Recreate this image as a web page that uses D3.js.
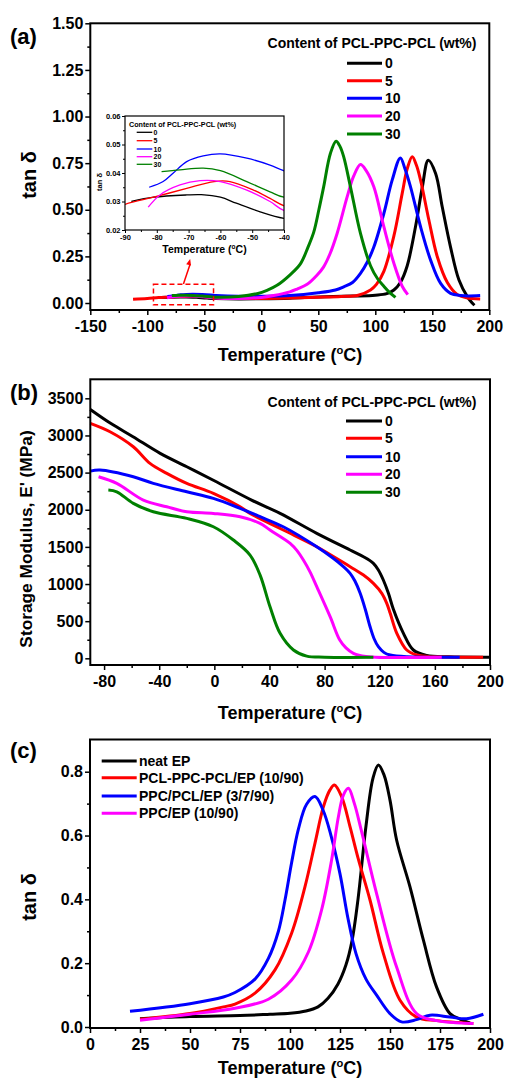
<!DOCTYPE html>
<html>
<head>
<meta charset="utf-8">
<script src="https://cdn.jsdelivr.net/npm/d3@7"></script>
<style>
  html, body { margin: 0; padding: 0; background: #fff; }
  svg { display: block; }
  text { font-family: 'Liberation Sans', Arial, sans-serif; font-weight: bold; fill: #000; }
</style>
</head>
<body>
<svg id="chart" width="505" height="1082"></svg>
<script>
// ---------- Panel (a): tan δ vs temperature, PCL-PPC-PCL content series ----------
const contentLabels = ["0", "5", "10", "20", "30"];
const seriesColors = ["#000000", "#ff0000", "#0000ff", "#ff00ff", "#008000"];

const tanA_0 = [[-88,0.030],[-81,0.0315],[-70.6,0.0323],[-66,0.0324],[-60,0.0315],[-55,0.0294],[-47.5,0.0264],[-40,0.0241],[-20,0.022],[0,0.023],[25,0.026],[50,0.032],[80,0.037],[100,0.042],[110,0.05],[116.3,0.07],[122,0.11],[128,0.2],[135.3,0.41],[141.2,0.62],[146.5,0.766],[152.9,0.695],[158.7,0.516],[166,0.30],[173.4,0.123],[180.7,0.034],[185,0.0],[187,-0.012]];
const tanA_5 = [[-112.5,0.02],[-100,0.024],[-90,0.029],[-81,0.0315],[-70.6,0.0346],[-62,0.037],[-57,0.037],[-49.6,0.034],[-44.4,0.0311],[-39.7,0.0284],[-20,0.024],[0,0.024],[25,0.027],[50,0.031],[70,0.035],[85,0.042],[95.8,0.07],[101,0.1],[107.5,0.17],[116.3,0.36],[123.6,0.588],[128,0.72],[132.4,0.784],[136,0.74],[139.7,0.659],[147,0.445],[154.4,0.248],[163.2,0.11],[172,0.045],[180,0.028],[192,0.022]];
const tanA_10 = [[-82.4,0.035],[-78,0.037],[-74.8,0.040],[-70.6,0.044],[-65.4,0.046],[-60,0.0467],[-51.7,0.0452],[-44.4,0.0428],[-39.7,0.0407],[-20,0.036],[0,0.036],[25,0.04],[50,0.055],[65,0.07],[72.3,0.087],[80,0.11],[87,0.159],[93,0.22],[98.7,0.30],[107.5,0.48],[114.8,0.659],[122,0.778],[126,0.72],[130.9,0.623],[139.7,0.409],[148.5,0.23],[157.3,0.105],[166,0.052],[175,0.04],[182,0.038],[192,0.04]];
const tanA_20 = [[-82.7,0.028],[-79,0.0323],[-72.7,0.0358],[-66.4,0.0373],[-60,0.037],[-51.7,0.034],[-44.4,0.030],[-39.7,0.0267],[-20,0.024],[0,0.03],[10.8,0.04],[25,0.06],[31.4,0.075],[40.2,0.1],[49,0.15],[54.7,0.194],[60,0.26],[66.5,0.373],[75.3,0.569],[81,0.68],[87,0.743],[92,0.71],[98.7,0.623],[107.5,0.409],[116.3,0.213],[123.6,0.09],[128.5,0.045]];
const tanA_30 = [[-78.5,0.0405],[-72.7,0.0411],[-65.4,0.0417],[-60,0.0408],[-51.7,0.037],[-44.4,0.0334],[-39.7,0.0315],[-20,0.035],[-3.8,0.05],[5,0.068],[13.8,0.095],[25,0.15],[34.3,0.21],[41,0.3],[46,0.38],[50.5,0.5],[54.7,0.623],[60.6,0.802],[65.6,0.868],[69,0.84],[72.3,0.784],[78.2,0.623],[87,0.373],[95.8,0.2],[102,0.13],[107.5,0.09],[112,0.06],[117.7,0.03]];

const tanA_xTicks = [-150,-100,-50,0,50,100,150,200];
const tanA_yTicks = [0,0.25,0.5,0.75,1.0,1.25,1.5];
const inset_xTicks = [-90,-80,-70,-60,-50,-40];
const inset_yTicks = [0.02,0.03,0.04,0.05,0.06];

// ---------- Panel (b): storage modulus ----------
const modB_0 = [[-90,3350],[-75,3160],[-59,2983],[-39.3,2759],[-20,2579],[0,2390],[27,2130],[47.7,1951],[74.3,1682],[98.5,1458],[108.2,1368],[115.4,1279],[119,1189],[122.6,1054],[126.3,875],[129.9,660],[137.2,336],[144.4,112],[154,40],[170,20],[200,15]];
const modB_5 = [[-90,3163],[-75.7,3050],[-58.8,2848],[-46.7,2624],[-34.5,2490],[-20,2355],[-0.7,2220],[18.7,2040],[25.9,1951],[50,1727],[74.3,1502],[98.5,1233],[108.2,1121],[115.4,1009],[121.5,875],[125.1,740],[127.6,606],[132.4,336],[139.6,112],[146.9,44],[160,20],[195,15]];
const modB_10 = [[-90,2520],[-83,2534],[-58.8,2444],[-44.3,2355],[-20,2242],[-0.7,2153],[18.7,2019],[33.2,1906],[50,1771],[74.3,1502],[86,1350],[93,1245],[98.5,1144],[102,1040],[105.8,875],[109.5,660],[113,425],[116,260],[119,156],[123,80],[127.6,44],[140,20],[178,15]];
const modB_20 = [[-84,2444],[-70.8,2355],[-51.5,2130],[-34.5,2040],[-20,1973],[-0.7,1951],[18.7,1906],[33.2,1817],[40.4,1727],[55,1548],[60,1450],[64.6,1323],[69.5,1160],[74.3,964],[84,560],[91,246],[95.5,140],[100.9,67],[110,25],[165,15]];
const modB_30 = [[-76.9,2265],[-70.8,2242],[-58.8,2086],[-44.3,1973],[-20,1884],[-0.7,1771],[13.8,1592],[25.9,1390],[33.2,1120],[40.4,694],[47.7,336],[57.4,112],[67,30],[80,15],[115.4,13]];

const modB_xTicks = [-80,-40,0,40,80,120,160,200];
const modB_yTicks = [0,500,1000,1500,2000,2500,3000,3500];

// ---------- Panel (c): tan δ of blends ----------
const blendLabels = ["neat EP", "PCL-PPC-PCL/EP (10/90)", "PPC/PCL/EP (3/7/90)", "PPC/EP (10/90)"];
const blendColors = ["#000000", "#ff0000", "#0000ff", "#ff00ff"];
const tanC_neat = [[25,0.026],[50,0.033],[75,0.036],[90,0.04],[100,0.043],[108,0.05],[114,0.063],[119,0.09],[124,0.135],[128,0.195],[131,0.27],[134,0.40],[138,0.63],[141.5,0.78],[144.2,0.821],[147,0.79],[150,0.711],[153.3,0.586],[160,0.439],[166.7,0.272],[173.3,0.125],[180,0.042],[185,0.025],[190,0.013]];
const tanC_tri = [[25,0.024],[50,0.042],[66.7,0.063],[72.5,0.072],[82.5,0.106],[92.5,0.179],[100.8,0.294],[107.5,0.44],[112.5,0.576],[116.7,0.69],[120,0.743],[122.2,0.758],[125.8,0.722],[130,0.628],[134,0.53],[140,0.398],[146.7,0.23],[155,0.084],[163.3,0.031],[173.3,0.02],[191.7,0.011]];
const tanC_blend = [[20,0.049],[50,0.073],[66.7,0.094],[72.5,0.108],[82.5,0.15],[89.2,0.215],[94.2,0.3],[97.5,0.398],[100.8,0.515],[104.2,0.62],[108.3,0.698],[112.5,0.722],[116.5,0.68],[120.5,0.6],[125,0.48],[129,0.34],[133,0.23],[138,0.15],[143.3,0.1],[150,0.042],[155.8,0.016],[163.3,0.023],[170,0.037],[180,0.031],[188.3,0.026],[196.7,0.04]];
const tanC_ppc = [[25,0.021],[50,0.04],[72.5,0.059],[89.2,0.087],[100.8,0.147],[109.2,0.235],[115.8,0.367],[120.8,0.523],[124.2,0.659],[126.7,0.727],[129.2,0.748],[132.2,0.70],[135.5,0.62],[143.3,0.418],[153.3,0.188],[163.3,0.042],[173.3,0.02],[191.7,0.011]];

const tanC_xTicks = [0,25,50,75,100,125,150,175,200];
const tanC_yTicks = [0,0.2,0.4,0.6,0.8];

// ---------- drawing helpers ----------
const svg = d3.select("#chart");
svg.append("rect").attr("width", 505).attr("height", 1082).attr("fill", "#fff");

const intFmt = d => String(d);   // plain hyphen for negative values

function midpoints(ticks) {
  const out = [];
  for (let i = 0; i < ticks.length - 1; i++) out.push((ticks[i] + ticks[i + 1]) / 2);
  return out;
}

function drawAxes(g, x, y, box, opt) {
  const fs = opt.fontSize;
  // minor ticks
  g.append("g").attr("transform", `translate(0,${box.y1})`)
    .call(d3.axisBottom(x).tickValues(midpoints(opt.xTicks)).tickSize(opt.minor).tickSizeOuter(0).tickFormat(""))
    .call(s => s.select(".domain").remove())
    .call(s => s.selectAll("line").attr("stroke-width", opt.tickW));
  g.append("g").attr("transform", `translate(${box.x0},0)`)
    .call(d3.axisLeft(y).tickValues(midpoints(opt.yTicks)).tickSize(opt.minor).tickSizeOuter(0).tickFormat(""))
    .call(s => s.select(".domain").remove())
    .call(s => s.selectAll("line").attr("stroke-width", opt.tickW));
  // major ticks + labels
  const ax = g.append("g").attr("transform", `translate(0,${box.y1})`)
    .call(d3.axisBottom(x).tickValues(opt.xTicks).tickSize(opt.major).tickPadding(opt.xPad).tickSizeOuter(0).tickFormat(opt.xFmt))
    .call(s => s.select(".domain").remove());
  ax.selectAll("line").attr("stroke-width", opt.tickW);
  ax.selectAll("text").attr("font-size", fs).attr("font-family", null).attr("fill", "#000");
  const ay = g.append("g").attr("transform", `translate(${box.x0},0)`)
    .call(d3.axisLeft(y).tickValues(opt.yTicks).tickSize(opt.major).tickPadding(opt.yPad).tickSizeOuter(0).tickFormat(opt.yFmt))
    .call(s => s.select(".domain").remove());
  ay.selectAll("line").attr("stroke-width", opt.tickW);
  ay.selectAll("text").attr("font-size", fs).attr("font-family", null).attr("fill", "#000");
  // frame
  g.append("rect")
    .attr("x", box.x0).attr("y", box.y0)
    .attr("width", box.x1 - box.x0).attr("height", box.y1 - box.y0)
    .attr("fill", "none").attr("stroke", "#000").attr("stroke-width", opt.frameW);
}

function tempTitle(g, cx, baseline, size) {
  const t = g.append("text").attr("x", cx).attr("y", baseline)
    .attr("text-anchor", "middle").attr("font-size", size);
  t.append("tspan").text("Temperature (");
  t.append("tspan").attr("font-size", size * 0.62).attr("dy", -size * 0.4).text("o");
  t.append("tspan").attr("dy", size * 0.4).text("C)");
}

function yTitle(g, x, cy, size, label) {
  g.append("text").attr("transform", `translate(${x},${cy}) rotate(-90)`)
    .attr("text-anchor", "middle").attr("font-size", size).text(label);
}

const lineGen = (x, y) => d3.line().x(d => x(d[0])).y(d => y(d[1])).curve(d3.curveCatmullRom.alpha(0.5));

function drawLegend(g, x0, x1, labelX, rows, labels, colors, size, width) {
  labels.forEach((lab, i) => {
    g.append("line").attr("x1", x0).attr("x2", x1).attr("y1", rows[i]).attr("y2", rows[i])
      .attr("stroke", colors[i]).attr("stroke-width", width);
    g.append("text").attr("x", labelX).attr("y", rows[i]).attr("dy", "0.36em")
      .attr("font-size", size).text(lab);
  });
}

// ================= Panel (a) =================
{
  const box = { x0: 90.3, x1: 489.3, y0: 23.3, y1: 310 };
  const x = d3.scaleLinear().domain([-150, 200]).range([box.x0, box.x1]);
  const y = d3.scaleLinear().domain([-0.0375, 1.5]).range([box.y1, box.y0]);
  const g = svg.append("g");
  const series = [tanA_0, tanA_5, tanA_10, tanA_20, tanA_30];
  const line = lineGen(x, y);
  series.forEach((s, i) => {
    g.append("path").attr("d", line(s)).attr("fill", "none")
      .attr("stroke", seriesColors[i]).attr("stroke-width", 3).attr("stroke-linejoin", "round");
  });
  drawAxes(g, x, y, box, { xTicks: tanA_xTicks, yTicks: tanA_yTicks, major: 5, minor: 3, xPad: 6, yPad: 2,
    fontSize: 16, tickW: 1.5, frameW: 2, xFmt: intFmt, yFmt: d3.format(".2f") });
  tempTitle(g, 290, 361, 18);
  yTitle(g, 36, 175, 20, "tan δ");
  g.append("text").attr("x", 10).attr("y", 44).attr("font-size", 22).text("(a)");

  // legend
  g.append("text").attr("x", 372).attr("y", 48).attr("text-anchor", "middle").attr("font-size", 14)
    .text("Content of PCL-PPC-PCL (wt%)");
  drawLegend(g, 347, 382, 385, [63.3, 80.7, 98.3, 116, 134], contentLabels, seriesColors, 14, 3);

  // highlighted low-temperature region and pointer
  g.append("rect").attr("x", x(-94.6)).attr("y", y(0.1)).attr("width", x(-41.9) - x(-94.6))
    .attr("height", y(-0.01) - y(0.1)).attr("fill", "none").attr("stroke", "#ff0000")
    .attr("stroke-width", 1.5).attr("stroke-dasharray", "5,3");
  const ax0 = x(-68.3), ay0 = y(0.102), ax1 = x(-62.4), ay1 = y(0.236);
  g.append("line").attr("x1", ax0).attr("y1", ay0).attr("x2", ax1).attr("y2", ay1 + 5)
    .attr("stroke", "#ff0000").attr("stroke-width", 1.5);
  const ang = Math.atan2(ay1 - ay0, ax1 - ax0);
  const hl = 6, hw = 2.5;
  const p1 = [ax1 - hl * Math.cos(ang) + hw * Math.sin(ang), ay1 - hl * Math.sin(ang) - hw * Math.cos(ang)];
  const p2 = [ax1 - hl * Math.cos(ang) - hw * Math.sin(ang), ay1 - hl * Math.sin(ang) + hw * Math.cos(ang)];
  g.append("path").attr("d", `M${ax1},${ay1}L${p1[0]},${p1[1]}L${p2[0]},${p2[1]}Z`).attr("fill", "#ff0000");

  // inset: close-up of the low-temperature relaxation
  const ib = { x0: 125, x1: 284, y0: 116, y1: 230 };
  const ix = d3.scaleLinear().domain([-90, -40]).range([ib.x0, ib.x1]);
  const iy = d3.scaleLinear().domain([0.02, 0.06]).range([ib.y1, ib.y0]);
  const ig = svg.append("g");
  ig.append("rect").attr("x", ib.x0).attr("y", ib.y0).attr("width", ib.x1 - ib.x0).attr("height", ib.y1 - ib.y0).attr("fill", "#fff");
  ig.append("clipPath").attr("id", "insetClip").append("rect")
    .attr("x", ib.x0).attr("y", ib.y0).attr("width", ib.x1 - ib.x0).attr("height", ib.y1 - ib.y0);
  const iline = lineGen(ix, iy);
  const ic = ig.append("g").attr("clip-path", "url(#insetClip)");
  series.forEach((s, i) => {
    ic.append("path").attr("d", iline(s)).attr("fill", "none")
      .attr("stroke", seriesColors[i]).attr("stroke-width", 1.3);
  });
  drawAxes(ig, ix, iy, ib, { xTicks: inset_xTicks, yTicks: inset_yTicks, major: 3, minor: 2, xPad: 2, yPad: 1.5,
    fontSize: 7.5, tickW: 1, frameW: 1.2, xFmt: intFmt, yFmt: d3.format(".2f") });
  tempTitle(ig, 204.5, 253, 10.5);
  yTitle(ig, 102, 182, 7.5, "tan δ");
  ig.append("text").attr("x", 129).attr("y", 126.8).attr("font-size", 7.2).text("Content of PCL-PPC-PCL (wt%)");
  drawLegend(ig, 136.7, 152.3, 153.5, [132.3, 140.7, 149, 156.7, 164.3], contentLabels, seriesColors, 7, 1.3);
}

// ================= Panel (b) =================
{
  const box = { x0: 90.3, x1: 490, y0: 379.3, y1: 665 };
  const x = d3.scaleLinear().domain([-90, 200]).range([box.x0, box.x1]);
  const y = d3.scaleLinear().domain([-90, 3756]).range([box.y1, box.y0]);
  const g = svg.append("g");
  const series = [modB_0, modB_5, modB_10, modB_20, modB_30];
  const line = lineGen(x, y);
  series.forEach((s, i) => {
    g.append("path").attr("d", line(s)).attr("fill", "none")
      .attr("stroke", seriesColors[i]).attr("stroke-width", 3).attr("stroke-linejoin", "round");
  });
  drawAxes(g, x, y, box, { xTicks: modB_xTicks, yTicks: modB_yTicks, major: 5, minor: 3, xPad: 6, yPad: 2,
    fontSize: 16, tickW: 1.5, frameW: 2, xFmt: intFmt, yFmt: intFmt });
  tempTitle(g, 290, 719, 18);
  yTitle(g, 32, 539, 17.3, "Storage Modulus, E' (MPa)");
  g.append("text").attr("x", 10).attr("y", 400).attr("font-size", 22).text("(b)");
  g.append("text").attr("x", 372).attr("y", 406.5).attr("text-anchor", "middle").attr("font-size", 14)
    .text("Content of PCL-PPC-PCL (wt%)");
  drawLegend(g, 346, 382, 385, [421, 438.3, 456.7, 474.3, 492.3], contentLabels, seriesColors, 14, 3);
}

// ================= Panel (c) =================
{
  const box = { x0: 90, x1: 490, y0: 739.5, y1: 1028 };
  const x = d3.scaleLinear().domain([0, 200]).range([box.x0, box.x1]);
  const y = d3.scaleLinear().domain([0, 0.9]).range([1027, 739.8]);
  const g = svg.append("g");
  const series = [tanC_neat, tanC_tri, tanC_blend, tanC_ppc];
  const line = lineGen(x, y);
  series.forEach((s, i) => {
    g.append("path").attr("d", line(s)).attr("fill", "none")
      .attr("stroke", blendColors[i]).attr("stroke-width", 3).attr("stroke-linejoin", "round");
  });
  drawAxes(g, x, y, box, { xTicks: tanC_xTicks, yTicks: tanC_yTicks, major: 5, minor: 3, xPad: 6, yPad: 2,
    fontSize: 16, tickW: 1.5, frameW: 2, xFmt: intFmt, yFmt: d3.format(".1f") });
  tempTitle(g, 290, 1074, 18);
  yTitle(g, 36, 897, 20, "tan δ");
  g.append("text").attr("x", 10).attr("y", 758).attr("font-size", 22).text("(c)");
  drawLegend(g, 101.7, 136.7, 139, [761, 777.7, 796, 813.3], blendLabels, blendColors, 14, 3);
}
</script>
</body>
</html>
